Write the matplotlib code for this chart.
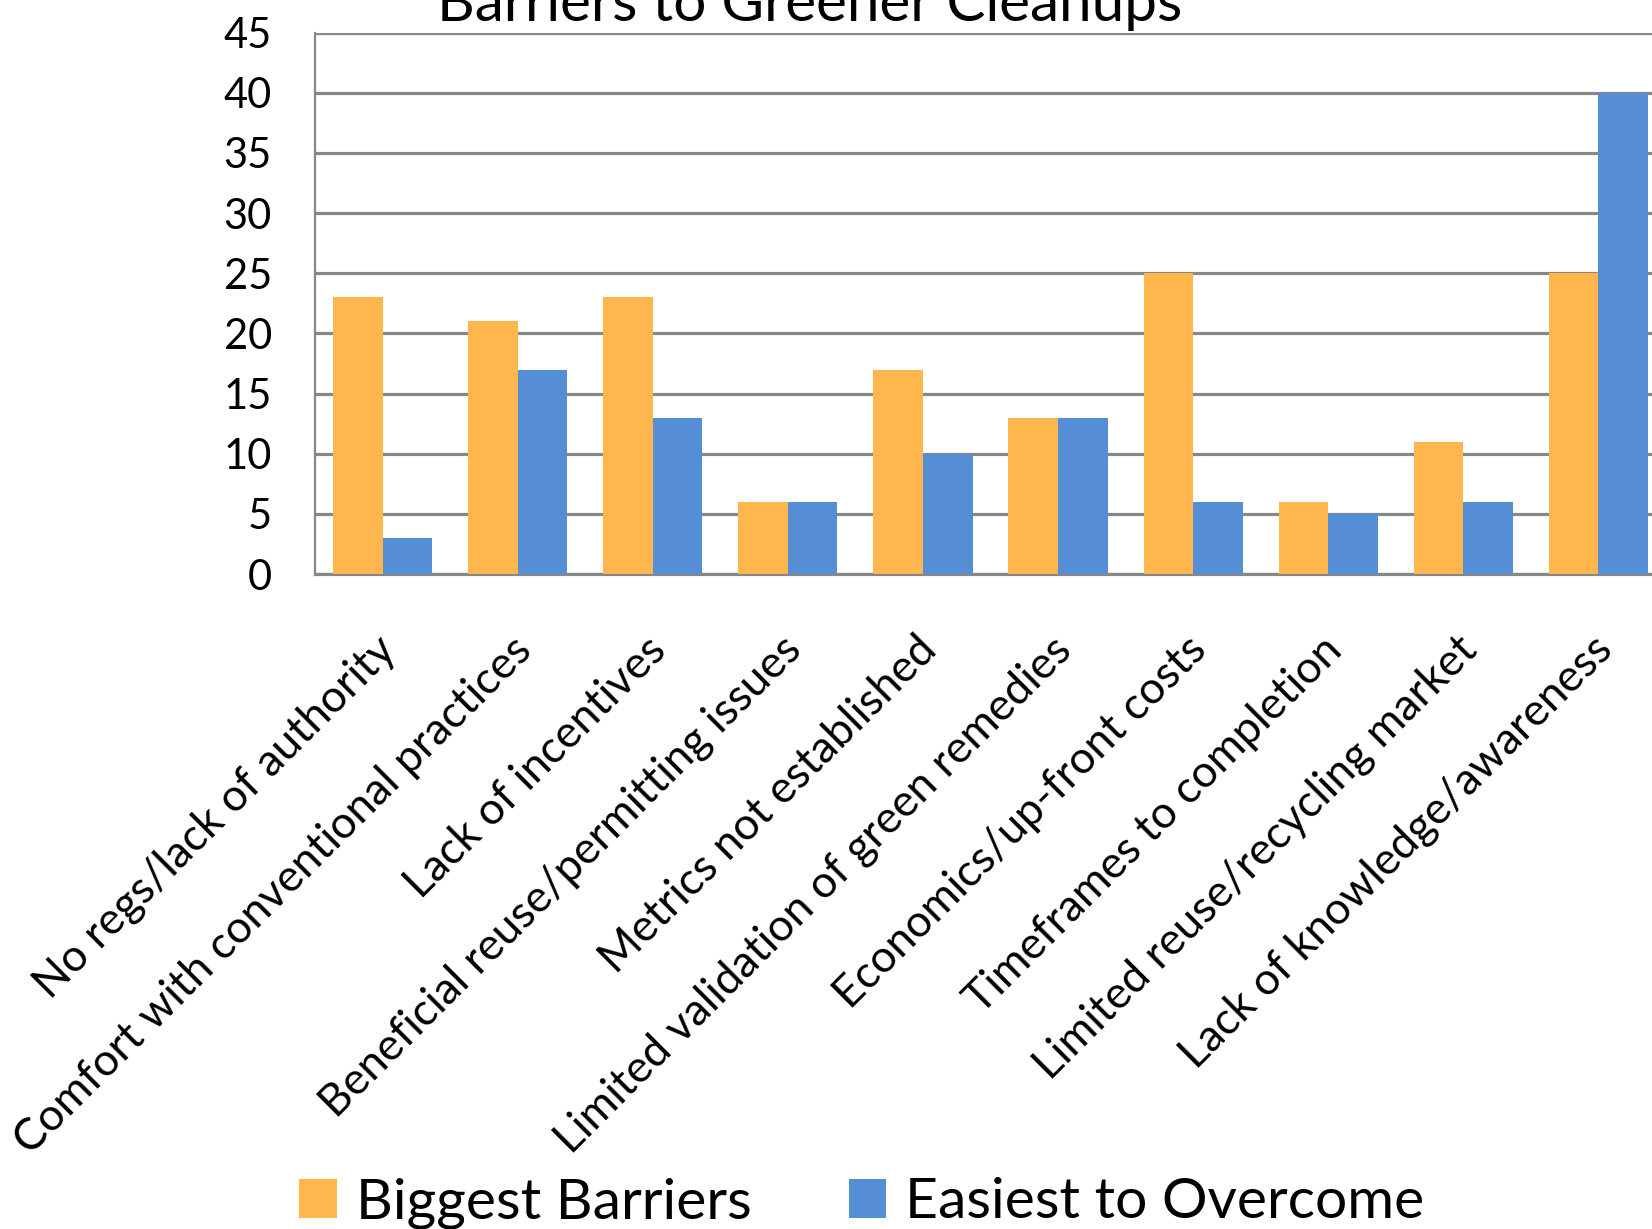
import numpy as np
import matplotlib
matplotlib.use("Agg")
import matplotlib.pyplot as plt
from matplotlib.transforms import ScaledTranslation

plt.rcParams['font.family'] = ['Lato', 'DejaVu Sans']

categories = [
    "No regs/lack of authority",
    "Comfort with conventional practices",
    "Lack of incentives",
    "Beneficial reuse/permitting issues",
    "Metrics not established",
    "Limited validation of green remedies",
    "Economics/up-front costs",
    "Timeframes to completion",
    "Limited reuse/recycling market",
    "Lack of knowledge/awareness",
]
biggest = [23, 21, 23, 6, 17, 13, 25, 6, 11, 25]
easiest = [3, 17, 13, 6, 10, 13, 6, 5, 6, 40]
series_names = ["Biggest Barriers", "Easiest to Overcome"]
colors = ["#FFB64D", "#558ED5"]

W, H = 1652, 1229
fig = plt.figure(figsize=(W / 100, H / 100), dpi=100)

# axes runs a bit past the right edge, like the source image
left, right = 315, 1666
bottom, top = 574, 32.7
ax = fig.add_axes([left / W, 1 - bottom / H, (right - left) / W, (bottom - top) / H])

x = np.arange(len(categories))
bw = 0.367
b1 = ax.bar(x - bw / 2, biggest, bw, color=colors[0], zorder=3, label=series_names[0])
b2 = ax.bar(x + bw / 2, easiest, bw, color=colors[1], zorder=3, label=series_names[1])

ax.set_xlim(-0.5, len(categories) - 0.5)
ax.set_ylim(0, 45)
ax.set_yticks(range(0, 46, 5))
ax.yaxis.grid(True, color="#878787", linewidth=2.3, zorder=0)
ax.set_axisbelow(True)

for s in ["top", "right"]:
    ax.spines[s].set_visible(False)
ax.spines["left"].set_color("#878787")
ax.spines["left"].set_linewidth(1.6)
ax.spines["bottom"].set_color("#878787")
ax.spines["bottom"].set_linewidth(2.3)

ax.tick_params(axis="y", length=0, pad=31, labelsize=30)
ax.set_xticks(x)
ax.set_xticklabels(categories, rotation=45, ha="right", va="center",
                   rotation_mode="anchor", fontsize=32)
ax.tick_params(axis="x", length=0, pad=50)
shift = ScaledTranslation(0.07, 0, fig.dpi_scale_trans)
for lab in ax.get_xticklabels():
    lab.set_transform(lab.get_transform() + shift)

fig.text(810 / W, 1 - 21 / H, "Barriers to Greener Cleanups",
         ha="center", va="baseline", fontsize=42)

fig.legend(handles=[b1, b2], loc="lower left", bbox_to_anchor=(299 / W, 0.0),
           ncol=2, frameon=False, fontsize=41, borderpad=0, borderaxespad=0,
           handlelength=0.66, handleheight=0.66, handletextpad=0.34,
           columnspacing=1.7)

fig.savefig("out.png", dpi=100)
